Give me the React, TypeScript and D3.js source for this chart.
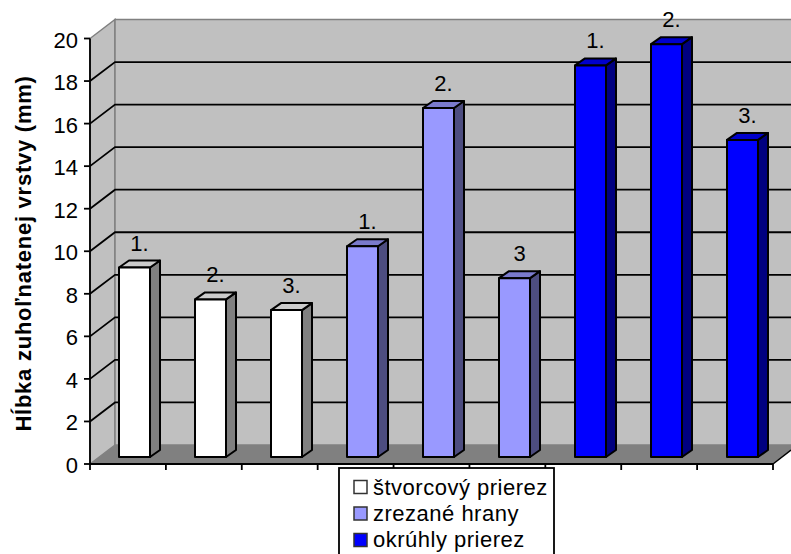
import React from "react";
import * as d3 from "d3";

const barLabels = ["1.", "2.", "3.", "1.", "2.", "3", "1.", "2.", "3."];
const barValues = [9, 7.5, 7, 10, 16.5, 8.5, 18.5, 19.5, 15];
const barSeries = [0, 0, 0, 1, 1, 1, 2, 2, 2];
const seriesNames = ["štvorcový prierez", "zrezané hrany", "okrúhly prierez"];
const frontFills = ["#ffffff", "#9999ff", "#0000ff"];
const sideFills = ["#808080", "#4d4d80", "#000080"];
const topFills = ["#cccccc", "#7a7acc", "#0000cc"];
const yTicks = [0, 2, 4, 6, 8, 10, 12, 14, 16, 18, 20];

const font = "'Liberation Sans', Arial, sans-serif";
const left = 90;
const right = 773;
const bottom = 464;
const top = 38.5;
const wallDx = 25;
const wallDy = -19;
const barDx = 10;
const barDy = -7;
const barBaseLift = 7;
const barTopLift = 5;
const barShift = 7;
const barWidth = 31;

const x = d3.scaleBand<number>().domain(d3.range(barValues.length)).range([left, right]);
const y = d3.scaleLinear().domain([0, 20]).range([bottom, top]);
const poly = (pts: [number, number][]) => (d3.line()(pts) ?? "") + "Z";

export default function App() {
  return (
    <svg
      width={791}
      height={554}
      style={{ position: "absolute", left: 0, top: 0, background: "#fff", fontFamily: font }}
    >
      {/* side wall, back wall and floor */}
      <path
        d={poly([[left, bottom], [left + wallDx, bottom + wallDy], [left + wallDx, top + wallDy], [left, top]])}
        fill="#c0c0c0"
        stroke="#808080"
        strokeWidth={1.5}
      />
      <rect
        x={left + wallDx}
        y={top + wallDy}
        width={right - left + 10}
        height={bottom - top}
        fill="#c0c0c0"
        stroke="#808080"
        strokeWidth={1.5}
      />
      <path
        d={poly([[left, bottom], [right, bottom], [right + wallDx, bottom + wallDy], [left + wallDx, bottom + wallDy]])}
        fill="#808080"
      />

      {/* gridlines along both walls */}
      {yTicks.slice(1, -1).map((t) => (
        <path
          key={t}
          d={`M${left},${y(t)}L${left + wallDx},${y(t) + wallDy}H791`}
          fill="none"
          stroke="#000"
          strokeWidth={1.8}
        />
      ))}

      {/* bars */}
      {barValues.map((v, i) => {
        const x0 = Math.round((x(i) ?? 0) + x.bandwidth() / 2 + barShift - barWidth / 2);
        const x1 = x0 + barWidth;
        const yB = bottom - barBaseLift;
        const yT = y(v) - barTopLift;
        const s = barSeries[i];
        return (
          <g key={i} stroke="#000" strokeWidth={2} strokeLinejoin="round">
            <path
              d={poly([[x1, yB], [x1 + barDx, yB + barDy], [x1 + barDx, yT + barDy], [x1, yT]])}
              fill={sideFills[s]}
            />
            <path
              d={poly([[x0, yT], [x1, yT], [x1 + barDx, yT + barDy], [x0 + barDx, yT + barDy]])}
              fill={topFills[s]}
            />
            <rect x={x0} y={yT} width={barWidth} height={yB - yT} fill={frontFills[s]} />
            <text
              x={x0 + 20.5}
              y={yT - 17}
              textAnchor="middle"
              fontSize={22}
              fill="#000"
              stroke="none"
            >
              {barLabels[i]}
            </text>
          </g>
        );
      })}

      {/* axes */}
      <path d={`M${left},${top}V${bottom}H${right}`} fill="none" stroke="#000" strokeWidth={1.8} />
      {yTicks.map((t) => (
        <g key={t}>
          <line x1={left - 6} x2={left} y1={y(t)} y2={y(t)} stroke="#000" strokeWidth={1.8} />
          <text x={78} y={y(t) + 9} textAnchor="end" fontSize={22} fill="#000">
            {t}
          </text>
        </g>
      ))}
      {d3.range(barValues.length + 1).map((i) => {
        const tx = left + i * x.step();
        return <line key={i} x1={tx} x2={tx} y1={bottom} y2={bottom + 6} stroke="#000" strokeWidth={1.8} />;
      })}
      <line x1={right} x2={791} y1={bottom} y2={bottom - 14} stroke="#000" strokeWidth={1.5} />

      <text
        transform="translate(31,253.5) rotate(-90)"
        textAnchor="middle"
        fontSize={22}
        fontWeight="bold"
        letterSpacing={0.75}
        fill="#000"
      >
        Hĺbka zuhoľnatenej vrstvy (mm)
      </text>

      {/* legend */}
      <rect x={339} y={468} width={215} height={92} fill="#fff" stroke="#000" strokeWidth={1.8} />
      {seriesNames.map((name, i) => (
        <g key={name}>
          <rect
            x={354}
            y={480.5 + i * 26.5}
            width={13}
            height={13}
            fill={frontFills[i]}
            stroke="#333"
            strokeWidth={1.5}
          />
          <text x={373} y={495 + i * 26} fontSize={22} letterSpacing={0.5} fill="#000">
            {name}
          </text>
        </g>
      ))}
    </svg>
  );
}
